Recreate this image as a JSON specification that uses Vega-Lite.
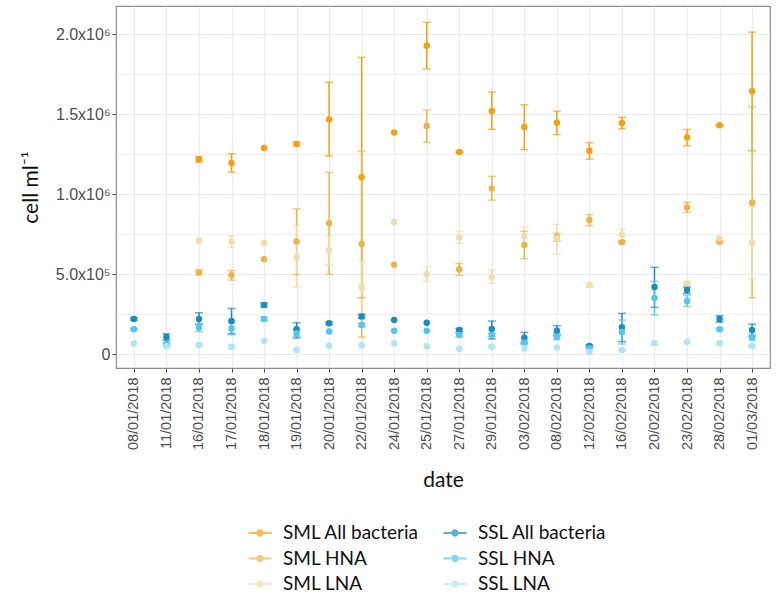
{
  "$schema": "https://vega.github.io/schema/vega-lite/v6.json",
  "width": 654,
  "height": 362,
  "autosize": "none",
  "padding": {"left": 116, "top": 6, "right": 7, "bottom": 235},
  "config": {
    "view": {"stroke": "#8c8c8c", "strokeWidth": 1.2},
    "axis": {"domain": false, "gridColor": "#ebebeb", "gridWidth": 1.2, "labelColor": "#4d4d4d", "labelFont": "Arial, Liberation Sans, sans-serif", "labelFontSize": 14.5, "tickColor": "#4d4d4d", "tickSize": 4, "titleFont": "Lato", "titleFontWeight": "normal", "titleFontSize": 21, "titleColor": "#111"},
    "legend": {"labelFont": "Lato", "labelFontSize": 19, "labelColor": "#111"}
  },
  "data": {"values": [
    {"date": "08/01/2018", "series": "SSL All bacteria", "v": 219000, "lo": 211000, "hi": 227000},
    {"date": "08/01/2018", "series": "SSL HNA", "v": 154000, "lo": 148000, "hi": 160000},
    {"date": "08/01/2018", "series": "SSL LNA", "v": 65000},
    {"date": "11/01/2018", "series": "SSL All bacteria", "v": 106000, "lo": 86000, "hi": 126000},
    {"date": "11/01/2018", "series": "SSL HNA", "v": 62000, "lo": 55000, "hi": 69000},
    {"date": "11/01/2018", "series": "SSL LNA", "v": 48000, "lo": 42000, "hi": 54000},
    {"date": "16/01/2018", "series": "SML All bacteria", "v": 1217000, "lo": 1200000, "hi": 1234000},
    {"date": "16/01/2018", "series": "SML HNA", "v": 510000, "lo": 495000, "hi": 525000},
    {"date": "16/01/2018", "series": "SML LNA", "v": 708000},
    {"date": "16/01/2018", "series": "SSL All bacteria", "v": 219000, "lo": 185000, "hi": 258000},
    {"date": "16/01/2018", "series": "SSL HNA", "v": 165000, "lo": 140000, "hi": 190000},
    {"date": "16/01/2018", "series": "SSL LNA", "v": 56000, "lo": 50000, "hi": 62000},
    {"date": "17/01/2018", "series": "SML All bacteria", "v": 1194000, "lo": 1136000, "hi": 1252000},
    {"date": "17/01/2018", "series": "SML HNA", "v": 492000, "lo": 462000, "hi": 522000},
    {"date": "17/01/2018", "series": "SML LNA", "v": 702000, "lo": 665000, "hi": 739000},
    {"date": "17/01/2018", "series": "SSL All bacteria", "v": 206000, "lo": 127000, "hi": 285000},
    {"date": "17/01/2018", "series": "SSL HNA", "v": 160000, "lo": 120000, "hi": 200000},
    {"date": "17/01/2018", "series": "SSL LNA", "v": 46000, "lo": 34000, "hi": 58000},
    {"date": "18/01/2018", "series": "SML All bacteria", "v": 1288000},
    {"date": "18/01/2018", "series": "SML HNA", "v": 592000},
    {"date": "18/01/2018", "series": "SML LNA", "v": 696000},
    {"date": "18/01/2018", "series": "SSL All bacteria", "v": 306000, "lo": 294000, "hi": 318000},
    {"date": "18/01/2018", "series": "SSL HNA", "v": 219000, "lo": 207000, "hi": 231000},
    {"date": "18/01/2018", "series": "SSL LNA", "v": 83000},
    {"date": "19/01/2018", "series": "SML All bacteria", "v": 1313000, "lo": 1303000, "hi": 1323000},
    {"date": "19/01/2018", "series": "SML HNA", "v": 703000, "lo": 497000, "hi": 906000},
    {"date": "19/01/2018", "series": "SML LNA", "v": 608000, "lo": 419000, "hi": 802000},
    {"date": "19/01/2018", "series": "SSL All bacteria", "v": 154000, "lo": 100000, "hi": 196000},
    {"date": "19/01/2018", "series": "SSL HNA", "v": 129000, "lo": 110000, "hi": 148000},
    {"date": "19/01/2018", "series": "SSL LNA", "v": 25000},
    {"date": "20/01/2018", "series": "SML All bacteria", "v": 1465000, "lo": 1237000, "hi": 1698000},
    {"date": "20/01/2018", "series": "SML HNA", "v": 817000, "lo": 498000, "hi": 1135000},
    {"date": "20/01/2018", "series": "SML LNA", "v": 648000, "lo": 558000, "hi": 737000},
    {"date": "20/01/2018", "series": "SSL All bacteria", "v": 192000, "lo": 184000, "hi": 200000},
    {"date": "20/01/2018", "series": "SSL HNA", "v": 140000},
    {"date": "20/01/2018", "series": "SSL LNA", "v": 52000},
    {"date": "22/01/2018", "series": "SML All bacteria", "v": 1104000, "lo": 352000, "hi": 1854000},
    {"date": "22/01/2018", "series": "SML HNA", "v": 687000, "lo": 106000, "hi": 1268000},
    {"date": "22/01/2018", "series": "SML LNA", "v": 417000, "lo": 251000, "hi": 583000},
    {"date": "22/01/2018", "series": "SSL All bacteria", "v": 235000, "lo": 222000, "hi": 248000},
    {"date": "22/01/2018", "series": "SSL HNA", "v": 181000, "lo": 171000, "hi": 191000},
    {"date": "22/01/2018", "series": "SSL LNA", "v": 54000},
    {"date": "24/01/2018", "series": "SML All bacteria", "v": 1385000},
    {"date": "24/01/2018", "series": "SML HNA", "v": 558000},
    {"date": "24/01/2018", "series": "SML LNA", "v": 825000},
    {"date": "24/01/2018", "series": "SSL All bacteria", "v": 212000},
    {"date": "24/01/2018", "series": "SSL HNA", "v": 146000},
    {"date": "24/01/2018", "series": "SSL LNA", "v": 67000},
    {"date": "25/01/2018", "series": "SML All bacteria", "v": 1927000, "lo": 1781000, "hi": 2073000},
    {"date": "25/01/2018", "series": "SML HNA", "v": 1425000, "lo": 1323000, "hi": 1525000},
    {"date": "25/01/2018", "series": "SML LNA", "v": 500000, "lo": 453000, "hi": 547000},
    {"date": "25/01/2018", "series": "SSL All bacteria", "v": 196000},
    {"date": "25/01/2018", "series": "SSL HNA", "v": 146000},
    {"date": "25/01/2018", "series": "SSL LNA", "v": 48000},
    {"date": "27/01/2018", "series": "SML All bacteria", "v": 1262000, "lo": 1258000, "hi": 1266000},
    {"date": "27/01/2018", "series": "SML HNA", "v": 529000, "lo": 492000, "hi": 566000},
    {"date": "27/01/2018", "series": "SML LNA", "v": 729000, "lo": 692000, "hi": 766000},
    {"date": "27/01/2018", "series": "SSL All bacteria", "v": 150000, "lo": 140000, "hi": 160000},
    {"date": "27/01/2018", "series": "SSL HNA", "v": 119000, "lo": 109000, "hi": 129000},
    {"date": "27/01/2018", "series": "SSL LNA", "v": 33000},
    {"date": "29/01/2018", "series": "SML All bacteria", "v": 1519000, "lo": 1404000, "hi": 1637000},
    {"date": "29/01/2018", "series": "SML HNA", "v": 1035000, "lo": 962000, "hi": 1110000},
    {"date": "29/01/2018", "series": "SML LNA", "v": 483000, "lo": 441000, "hi": 525000},
    {"date": "29/01/2018", "series": "SSL All bacteria", "v": 156000, "lo": 94000, "hi": 206000},
    {"date": "29/01/2018", "series": "SSL HNA", "v": 119000, "lo": 109000, "hi": 129000},
    {"date": "29/01/2018", "series": "SSL LNA", "v": 46000, "lo": 38000, "hi": 54000},
    {"date": "03/02/2018", "series": "SML All bacteria", "v": 1419000, "lo": 1277000, "hi": 1558000},
    {"date": "03/02/2018", "series": "SML HNA", "v": 681000, "lo": 596000, "hi": 767000},
    {"date": "03/02/2018", "series": "SML LNA", "v": 737000, "lo": 680000, "hi": 794000},
    {"date": "03/02/2018", "series": "SSL All bacteria", "v": 102000, "lo": 69000, "hi": 135000},
    {"date": "03/02/2018", "series": "SSL HNA", "v": 71000, "lo": 60000, "hi": 82000},
    {"date": "03/02/2018", "series": "SSL LNA", "v": 35000},
    {"date": "08/02/2018", "series": "SML All bacteria", "v": 1446000, "lo": 1371000, "hi": 1517000},
    {"date": "08/02/2018", "series": "SML HNA", "v": 730000, "lo": 705000, "hi": 755000},
    {"date": "08/02/2018", "series": "SML LNA", "v": 720000, "lo": 625000, "hi": 810000},
    {"date": "08/02/2018", "series": "SSL All bacteria", "v": 146000, "lo": 115000, "hi": 177000},
    {"date": "08/02/2018", "series": "SSL HNA", "v": 108000, "lo": 90000, "hi": 126000},
    {"date": "08/02/2018", "series": "SSL LNA", "v": 40000},
    {"date": "12/02/2018", "series": "SML All bacteria", "v": 1270000, "lo": 1217000, "hi": 1321000},
    {"date": "12/02/2018", "series": "SML HNA", "v": 837000, "lo": 802000, "hi": 872000},
    {"date": "12/02/2018", "series": "SML LNA", "v": 431000, "lo": 418000, "hi": 444000},
    {"date": "12/02/2018", "series": "SSL All bacteria", "v": 50000, "lo": 43000, "hi": 57000},
    {"date": "12/02/2018", "series": "SSL HNA", "v": 35000},
    {"date": "12/02/2018", "series": "SSL LNA", "v": 12000},
    {"date": "16/02/2018", "series": "SML All bacteria", "v": 1444000, "lo": 1408000, "hi": 1479000},
    {"date": "16/02/2018", "series": "SML HNA", "v": 698000, "lo": 690000, "hi": 706000},
    {"date": "16/02/2018", "series": "SML LNA", "v": 744000, "lo": 707000, "hi": 781000},
    {"date": "16/02/2018", "series": "SSL All bacteria", "v": 167000, "lo": 77000, "hi": 254000},
    {"date": "16/02/2018", "series": "SSL HNA", "v": 137000, "lo": 62000, "hi": 212000},
    {"date": "16/02/2018", "series": "SSL LNA", "v": 25000, "lo": 17000, "hi": 33000},
    {"date": "20/02/2018", "series": "SSL All bacteria", "v": 419000, "lo": 292000, "hi": 542000},
    {"date": "20/02/2018", "series": "SSL HNA", "v": 350000, "lo": 244000, "hi": 454000},
    {"date": "20/02/2018", "series": "SSL LNA", "v": 69000, "lo": 57000, "hi": 81000},
    {"date": "23/02/2018", "series": "SML All bacteria", "v": 1354000, "lo": 1302000, "hi": 1404000},
    {"date": "23/02/2018", "series": "SML HNA", "v": 917000, "lo": 885000, "hi": 948000},
    {"date": "23/02/2018", "series": "SML LNA", "v": 440000, "lo": 428000, "hi": 452000},
    {"date": "23/02/2018", "series": "SSL All bacteria", "v": 400000, "lo": 378000, "hi": 418000},
    {"date": "23/02/2018", "series": "SSL HNA", "v": 331000, "lo": 296000, "hi": 366000},
    {"date": "23/02/2018", "series": "SSL LNA", "v": 77000},
    {"date": "28/02/2018", "series": "SML All bacteria", "v": 1429000, "lo": 1425000, "hi": 1433000},
    {"date": "28/02/2018", "series": "SML HNA", "v": 702000, "lo": 696000, "hi": 708000},
    {"date": "28/02/2018", "series": "SML LNA", "v": 723000},
    {"date": "28/02/2018", "series": "SSL All bacteria", "v": 219000, "lo": 199000, "hi": 239000},
    {"date": "28/02/2018", "series": "SSL HNA", "v": 154000, "lo": 146000, "hi": 162000},
    {"date": "28/02/2018", "series": "SSL LNA", "v": 67000, "lo": 57000, "hi": 77000},
    {"date": "01/03/2018", "series": "SML All bacteria", "v": 1642000, "lo": 1270000, "hi": 2012000},
    {"date": "01/03/2018", "series": "SML HNA", "v": 946000, "lo": 352000, "hi": 1546000},
    {"date": "01/03/2018", "series": "SML LNA", "v": 694000, "lo": 469000, "hi": 921000},
    {"date": "01/03/2018", "series": "SSL All bacteria", "v": 150000, "lo": 110000, "hi": 187000},
    {"date": "01/03/2018", "series": "SSL HNA", "v": 104000, "lo": 85000, "hi": 123000},
    {"date": "01/03/2018", "series": "SSL LNA", "v": 50000, "lo": 42000, "hi": 58000}
  ]},
  "encoding": {
    "x": {
      "field": "date", "type": "ordinal",
      "sort": ["08/01/2018", "11/01/2018", "16/01/2018", "17/01/2018", "18/01/2018", "19/01/2018", "20/01/2018", "22/01/2018", "24/01/2018", "25/01/2018", "27/01/2018", "29/01/2018", "03/02/2018", "08/02/2018", "12/02/2018", "16/02/2018", "20/02/2018", "23/02/2018", "28/02/2018", "01/03/2018"],
      "scale": {"type": "point", "padding": 0.55},
      "axis": {"title": "date", "labelAngle": -90, "labelAlign": "right", "labelBaseline": "middle", "labelPadding": 5, "titlePadding": 20, "grid": true}
    },
    "color": {
      "field": "series", "type": "nominal",
      "scale": {
        "domain": ["SML All bacteria", "SML HNA", "SML LNA", "SSL All bacteria", "SSL HNA", "SSL LNA"],
        "range": ["#f5a00c", "#ecb44a", "#f1dcb0", "#1a8cc0", "#52c6ee", "#b0e4f6"]
      },
      "legend": {
        "title": null, "orient": "none", "legendX": 132, "legendY": 515, "columns": 2,
        "columnPadding": 23, "rowPadding": 3.5, "labelOffset": 11,
        "symbolType": "M-1,-0.08L1,-0.08L1,0.08L-1,0.08Z M0.32,0A0.32,0.32 0 1,1 -0.32,0A0.32,0.32 0 1,1 0.32,0Z",
        "symbolSize": 530, "symbolStrokeWidth": 0
      }
    }
  },
  "layer": [
    {
      "mark": {"type": "rule", "strokeWidth": 1.5},
      "encoding": {
        "y": {"field": "lo", "type": "quantitative"},
        "y2": {"field": "hi"}
      }
    },
    {
      "mark": {"type": "tick", "size": 8, "thickness": 1.5},
      "encoding": {"y": {"field": "lo", "type": "quantitative"}}
    },
    {
      "mark": {"type": "tick", "size": 8, "thickness": 1.5},
      "encoding": {"y": {"field": "hi", "type": "quantitative"}}
    },
    {
      "mark": {"type": "point", "filled": true, "size": 42, "opacity": 1, "shape": "circle"},
      "encoding": {
        "y": {
          "field": "v", "type": "quantitative",
          "scale": {"domain": [-87500, 2175000], "nice": false, "zero": false},
          "axis": {
            "title": "cell ml⁻¹", "titlePadding": 14, "labelFontSize": 16,
            "values": [0, 250000, 500000, 750000, 1000000, 1250000, 1500000, 1750000, 2000000],
            "labelExpr": "datum.value == 0 ? '0' : datum.value == 500000 ? '5.0x10⁵' : datum.value == 1000000 ? '1.0x10⁶' : datum.value == 1500000 ? '1.5x10⁶' : datum.value == 2000000 ? '2.0x10⁶' : ''",
            "tickOpacity": {"condition": {"test": "datum.value % 500000 != 0", "value": 0}, "value": 1},
            "gridWidth": {"condition": {"test": "datum.value % 500000 != 0", "value": 0.8}, "value": 1.2}
          }
        }
      }
    }
  ]
}
